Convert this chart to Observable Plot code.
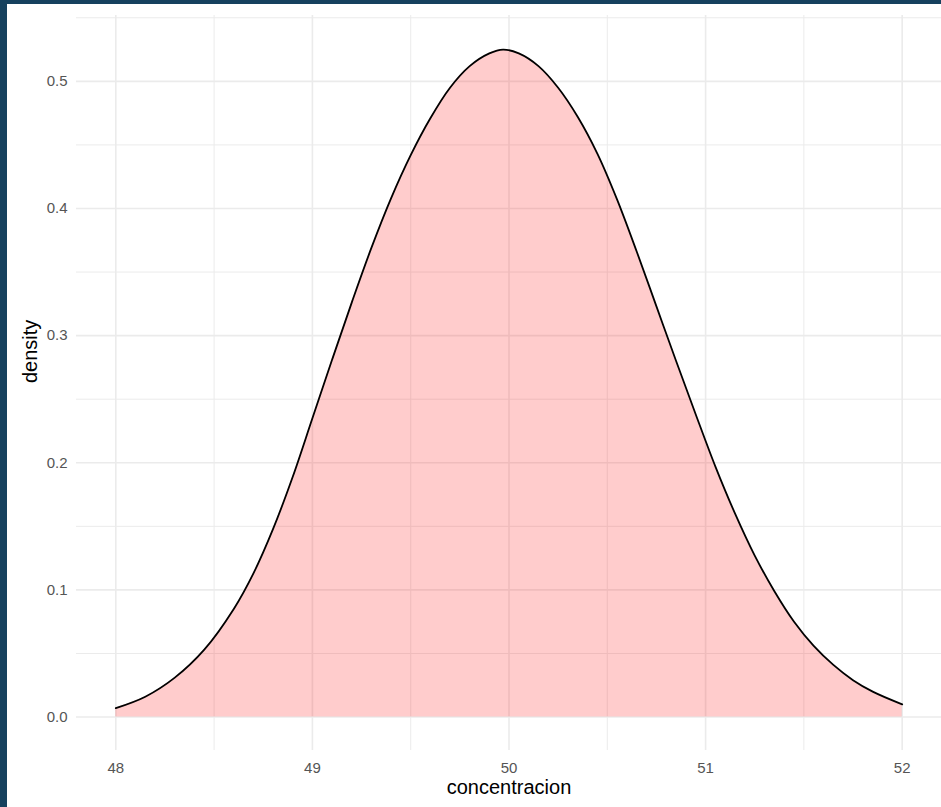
<!DOCTYPE html>
<html>
<head>
<meta charset="utf-8">
<script src="https://cdn.jsdelivr.net/npm/d3@7"></script>
<script src="https://cdn.jsdelivr.net/npm/@observablehq/plot@0.6"></script>
<style>
  html, body { margin: 0; padding: 0; }
  body { background: #16415e; width: 941px; height: 807px; overflow: hidden; position: relative; }
  #frame { position: absolute; left: 7px; top: 4px; width: 934px; height: 803px; background: #ffffff; }
</style>
</head>
<body>
<div id="frame"></div>
<script>
// concentracion values (x) and density estimates (y)
const concentracion = [48.00, 48.15, 48.30, 48.45, 48.60, 48.70, 48.80, 48.90,
  49.00, 49.10, 49.20, 49.30, 49.40, 49.50, 49.60, 49.70, 49.80, 49.90, 49.97,
  50.05, 50.15, 50.25, 50.35, 50.45, 50.55, 50.65, 50.75, 50.85, 50.95,
  51.05, 51.15, 51.25, 51.35, 51.45, 51.55, 51.65, 51.75, 51.85, 52.00];
const density = [0.007, 0.016, 0.031, 0.053, 0.085, 0.113, 0.148, 0.189,
  0.235, 0.281, 0.326, 0.369, 0.408, 0.442, 0.471, 0.495, 0.512, 0.522, 0.525,
  0.522, 0.512, 0.495, 0.472, 0.443, 0.407, 0.366, 0.323, 0.280, 0.238,
  0.197, 0.160, 0.127, 0.099, 0.075, 0.056, 0.041, 0.029, 0.020, 0.010];

const xMajor = [48, 49, 50, 51, 52];
const xMinor = [48.5, 49.5, 50.5, 51.5];
const yMajor = [0, 0.1, 0.2, 0.3, 0.4, 0.5];
const yMinor = [0.05, 0.15, 0.25, 0.35, 0.45, 0.55];
const xTitle = "concentracion";
const yTitle = "density";

const data = concentracion.map((x, i) => ({x, y: density[i]}));

const gridColor = "#ebebeb";
const tickColor = "#555555";

const chart = Plot.plot({
  width: 934,
  height: 803,
  marginLeft: 69,
  marginRight: 0,
  marginTop: 11,
  marginBottom: 57,
  x: {domain: [47.8, 52.2]},
  y: {domain: [-0.0263, 0.5518]},
  style: {fontFamily: "'Liberation Sans', Arial, sans-serif", background: "white", overflow: "visible"},
  marks: [
    Plot.gridX(xMinor, {stroke: gridColor, strokeOpacity: 1, strokeWidth: 1}),
    Plot.gridY(yMinor, {stroke: gridColor, strokeOpacity: 1, strokeWidth: 1}),
    Plot.gridX(xMajor, {stroke: gridColor, strokeOpacity: 1, strokeWidth: 1.6}),
    Plot.gridY(yMajor, {stroke: gridColor, strokeOpacity: 1, strokeWidth: 1.6}),
    Plot.areaY(data, {x: "x", y: "y", fill: "red", fillOpacity: 0.2, curve: "catmull-rom"}),
    Plot.line(data, {x: "x", y: "y", stroke: "black", strokeWidth: 1.8, curve: "catmull-rom"}),
    Plot.axisX(xMajor, {tickSize: 0, tickPadding: 12, fontSize: 15, color: tickColor, label: null, tickFormat: d3.format("d")}),
    Plot.axisY(yMajor, {tickSize: 0, tickPadding: 9, fontSize: 15, color: tickColor, label: null, tickFormat: d3.format(".1f")}),
    Plot.text([xTitle], {frameAnchor: "bottom", dy: 43, fontSize: 20, fill: "black"}),
    Plot.text([yTitle], {frameAnchor: "left", dx: -46, rotate: -90, fontSize: 20, fill: "black"})
  ]
});
document.getElementById("frame").appendChild(chart);
</script>
</body>
</html>
